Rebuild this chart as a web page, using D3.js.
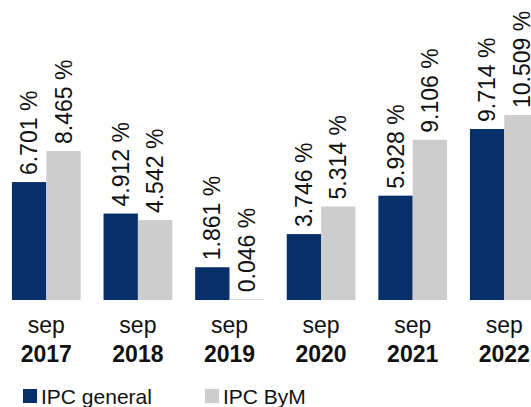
<!DOCTYPE html>
<html>
<head>
<meta charset="utf-8">
<script src="https://cdn.jsdelivr.net/npm/d3@7"></script>
<style>
  html, body { margin: 0; padding: 0; background: #fff; }
  svg { display: block; font-family: Arial, "Liberation Sans", sans-serif; }
</style>
</head>
<body>
<svg id="chart" width="531" height="407"></svg>
<script>
const months = ["sep", "sep", "sep", "sep", "sep", "sep"];
const years = ["2017", "2018", "2019", "2020", "2021", "2022"];
const seriesNames = ["IPC general", "IPC ByM"];
const ipcGeneral = [6.701, 4.912, 1.861, 3.746, 5.928, 9.714];
const ipcByM = [8.465, 4.542, 0.046, 5.314, 9.106, 10.509];
const colors = ["#07306b", "#cdcdcd"];

const svg = d3.select("#chart");
const baseline = 300;

const x = d3.scaleBand().domain(years).range([0.5, 550.1]).paddingInner(0.25).paddingOuter(0.125);
const xs = d3.scaleBand().domain(seriesNames).range([0, x.bandwidth()]).padding(0);
const y = d3.scaleLinear().domain([0, 12]).range([baseline, baseline - 12 * 17.6]);

const rows = years.map((yr, i) => ({ yr, i, vals: [ipcGeneral[i], ipcByM[i]] }));

const groups = svg.selectAll("g.grp").data(rows).join("g")
  .attr("class", "grp")
  .attr("transform", d => `translate(${x(d.yr)},0)`);

groups.selectAll("rect").data(d => d.vals.map((v, k) => ({ v, k }))).join("rect")
  .attr("x", d => xs(seriesNames[d.k]))
  .attr("width", xs.bandwidth())
  .attr("y", d => y(d.v))
  .attr("height", d => baseline - y(d.v))
  .attr("fill", d => colors[d.k]);

groups.selectAll("text.val").data(d => d.vals.map((v, k) => ({ v, k }))).join("text")
  .attr("class", "val")
  .attr("transform", d => `translate(${xs(seriesNames[d.k]) + xs.bandwidth() / 2},${y(d.v) - 7}) rotate(-90)`)
  .attr("dy", "0.35em")
  .attr("text-anchor", "start")
  .attr("font-size", 23)
  .attr("fill", "#111")
  .text(d => d.v.toFixed(3) + " %");

// category axis labels
const xAxisG = svg.append("g");
xAxisG.selectAll("text.m").data(rows).join("text")
  .attr("class", "m")
  .attr("x", d => x(d.yr) + x.bandwidth() / 2)
  .attr("y", 333)
  .attr("text-anchor", "middle")
  .attr("font-size", 23)
  .attr("fill", "#111")
  .text(d => months[d.i]);
xAxisG.selectAll("text.yr").data(rows).join("text")
  .attr("class", "yr")
  .attr("x", d => x(d.yr) + x.bandwidth() / 2)
  .attr("y", 362)
  .attr("text-anchor", "middle")
  .attr("font-size", 23)
  .attr("font-weight", "bold")
  .attr("fill", "#111")
  .text(d => d.yr);

// legend
const legendX = [23, 205];
const lg = svg.append("g").selectAll("g").data(seriesNames).join("g")
  .attr("transform", (d, i) => `translate(${legendX[i]},389)`);
lg.append("rect").attr("width", 14).attr("height", 14).attr("fill", (d, i) => colors[i]);
lg.append("text").attr("x", 18).attr("y", 15).attr("font-size", 21).attr("fill", "#111").text(d => d);
</script>
</body>
</html>
